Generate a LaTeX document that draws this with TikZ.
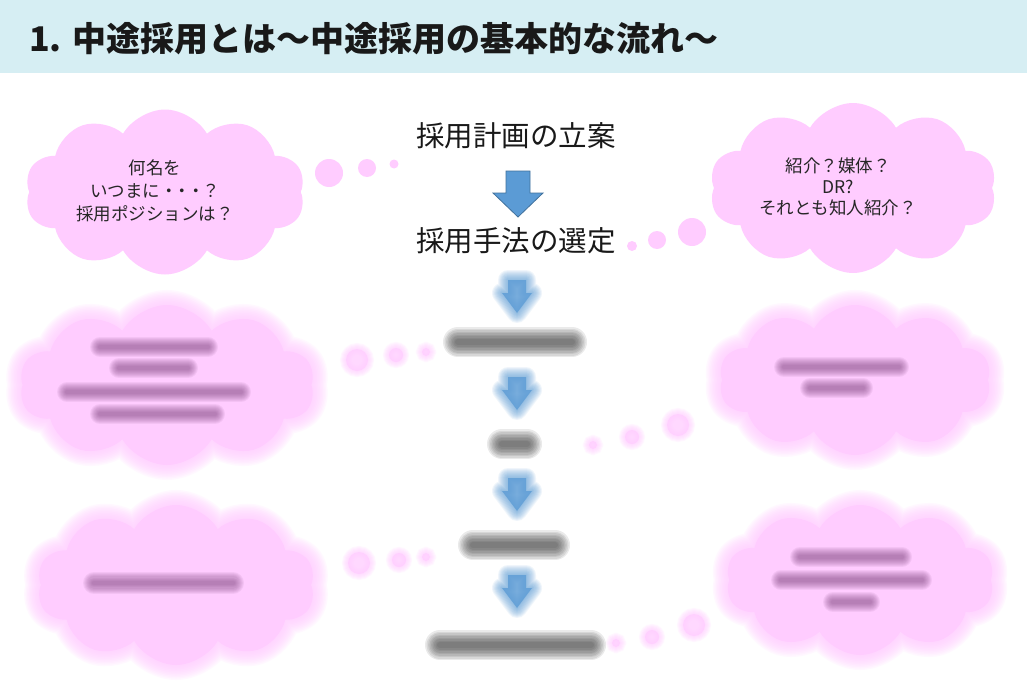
\documentclass[tikz,border=0pt]{standalone}
\usepackage{fontspec}
\newfontfamily\jp{Noto Sans CJK JP}
\usetikzlibrary{shapes.symbols}
\definecolor{titlebar}{RGB}{214,238,243}
\definecolor{cloudpink}{RGB}{255,204,255}
\definecolor{arrowblue}{RGB}{91,155,213}
\definecolor{arrowedge}{RGB}{65,113,156}
\definecolor{blurtext}{RGB}{50,50,50}
\definecolor{cloudtext}{RGB}{110,50,110}

% block arrow outline: #1 = centre x, #2 = top y
\newcommand{\arrowshape}[2]{(#1-12,#2) -- (#1+12,#2) -- (#1+12,#2+22) -- (#1+25,#2+22) -- (#1,#2+46) -- (#1-25,#2+22) -- (#1-12,#2+22) -- cycle}
\newcommand{\smallarrowshape}[2]{(#1-9,#2) -- (#1+9,#2) -- (#1+9,#2+13) -- (#1+15,#2+13) -- (#1,#2+33) -- (#1-15,#2+13) -- (#1-9,#2+13) -- cycle}

% soft (blurred) cloud: name, x, y, w, h
\newcommand{\softcloud}[5]{%
  \foreach \w in {3,6,...,30}{%
    \node[blurcloud, fill=none, draw=cloudpink, draw opacity=0.13, line width=\w pt,
          minimum width=#4pt, minimum height=#5pt] (#1s\w) at (#2,#3) {};}
  \node[blurcloud, minimum width=#4pt, minimum height=#5pt] (#1) at (#2,#3) {};}

% soft dot: name, x, y, r
\newcommand{\softdot}[4]{%
  \foreach \w in {2,4,...,12}{%
    \node[bubble, fill=none, draw=cloudpink, draw opacity=0.14, line width=\w pt,
          minimum size={2*(#4)}] (#1s\w) at (#2,#3) {};}
  \node[bubble, fill opacity=0.75, minimum size={2*(#4)}] (#1) at (#2,#3) {};}

% soft bar standing for blurred text: x1, x2, y, colour, opacity, max width
\newcommand{\softbar}[6]{%
  \foreach \f in {1,0.9,...,0.1}{%
    \draw[line cap=round, line width={\f*(#6)}, draw=#4, draw opacity=#5] (#1+#6/2,#3) -- (#2-#6/2,#3);}}

% soft arrow: x, top y
\newcommand{\softarrow}[2]{%
  \foreach \w in {2,4,...,20}{%
    \draw[draw=arrowblue, draw opacity=0.09, line width=\w pt, line join=round] \smallarrowshape{#1}{#2};}
  \fill[arrowblue, fill opacity=0.8] \smallarrowshape{#1}{#2};}

\tikzset{
  thought/.style={cloud, cloud puffs=10, cloud puff arc=120, aspect=1.7,
    fill=cloudpink, draw=none, inner sep=0pt},
  blurcloud/.style={cloud, cloud puffs=10, cloud puff arc=120, aspect=1.7,
    fill=cloudpink, draw=none, inner sep=0pt},
  bubble/.style={circle, fill=cloudpink, draw=none, inner sep=0pt},
  saytext/.style={font=\jp\fontsize{17.5}{23.5}\selectfont, align=center, text=black!85, inner sep=0pt},
  steptext/.style={font=\jp\fontsize{28.5}{34}\selectfont, text=black!90, inner sep=0pt},
  titletext/.style={font=\jp\bfseries\fontsize{34}{37}\selectfont, text=black!90, inner sep=0pt},
  blockarrow/.style={fill=arrowblue, draw=arrowedge, line width=0.8pt},
}

\begin{document}
\begin{tikzpicture}[x=1pt, y=-1pt]
\useasboundingbox (0,0) rectangle (1027,685);
\fill[white] (0,0) rectangle (1027,685);

% title bar
\fill[titlebar] (0,0) rectangle (1027,73);
\node[titletext, anchor=west] (title) at (29,39) {1. 中途採用とは～中途採用の基本的な流れ～};

% ---------- crisp upper part ----------
\node[thought, minimum width=280pt, minimum height=165pt] (cloudL) at (165,192) {};
\node[saytext, font=\jp\fontsize{17.5}{23.3}\selectfont] (textL) at (155,191) {何名を\\いつまに・\kern-4pt・\kern-4pt・\kern-2pt？\\採用ポジションは？};
\node[bubble, minimum size=28pt] (bL1) at (329,173) {};
\node[bubble, minimum size=18pt] (bL2) at (367,168) {};
\node[bubble, minimum size=9pt] (bL3) at (394,164) {};

\node[thought, minimum width=287pt, minimum height=170pt] (cloudR) at (853,188) {};
\node[saytext, font=\jp\fontsize{17.5}{21.2}\selectfont] (textR) at (838,187) {紹介？媒体？\\DR?\\それとも知人紹介？};
\node[bubble, minimum size=28pt] (bR1) at (692,232) {};
\node[bubble, minimum size=18pt] (bR2) at (657,240) {};
\node[bubble, minimum size=10pt] (bR3) at (632,246) {};

\node[steptext] (plan) at (516,136) {採用計画の立案};
\node[steptext] (method) at (516,241) {採用手法の選定};
\draw[blockarrow] \arrowshape{518}{171};

% ---------- blurred lower part ----------
\softcloud{cLU}{167}{385}{295}{160}
\softcloud{cLL}{176}{585}{278}{160}
\softcloud{cRU}{855}{380}{272}{150}
\softcloud{cRL}{860}{580}{268}{150}

\softdot{dLUa}{357}{360}{11}
\softdot{dLUb}{396}{355}{7}
\softdot{dLUc}{426}{352}{4}
\softdot{dRUa}{678}{425}{11}
\softdot{dRUb}{632}{437}{7}
\softdot{dRUc}{593}{445}{4}
\softdot{dLLa}{359}{563}{11}
\softdot{dLLb}{399}{560}{7}
\softdot{dLLc}{426}{557}{4}
\softdot{dRLa}{694}{625}{11}
\softdot{dRLb}{652}{637}{7}
\softdot{dRLc}{616}{643}{4}

\softarrow{517}{280}
\softarrow{517}{377}
\softarrow{517}{478}
\softarrow{517}{575}

\softbar{443}{587}{342}{blurtext}{0.1}{30}
\softbar{487}{542}{444}{blurtext}{0.1}{30}
\softbar{458}{570}{545}{blurtext}{0.1}{30}
\softbar{425}{606}{645}{blurtext}{0.1}{30}

\softbar{90}{218}{347}{cloudtext}{0.07}{20}
\softbar{109}{198}{368}{cloudtext}{0.07}{20}
\softbar{57}{251}{392}{cloudtext}{0.07}{20}
\softbar{90}{225}{414}{cloudtext}{0.07}{20}

\softbar{774}{909}{367}{cloudtext}{0.07}{20}
\softbar{800}{873}{388}{cloudtext}{0.07}{20}

\softbar{83}{244}{583}{cloudtext}{0.07}{22}

\softbar{790}{912}{557}{cloudtext}{0.07}{20}
\softbar{771}{932}{580}{cloudtext}{0.07}{20}
\softbar{823}{880}{602}{cloudtext}{0.07}{20}
\end{tikzpicture}
\end{document}
